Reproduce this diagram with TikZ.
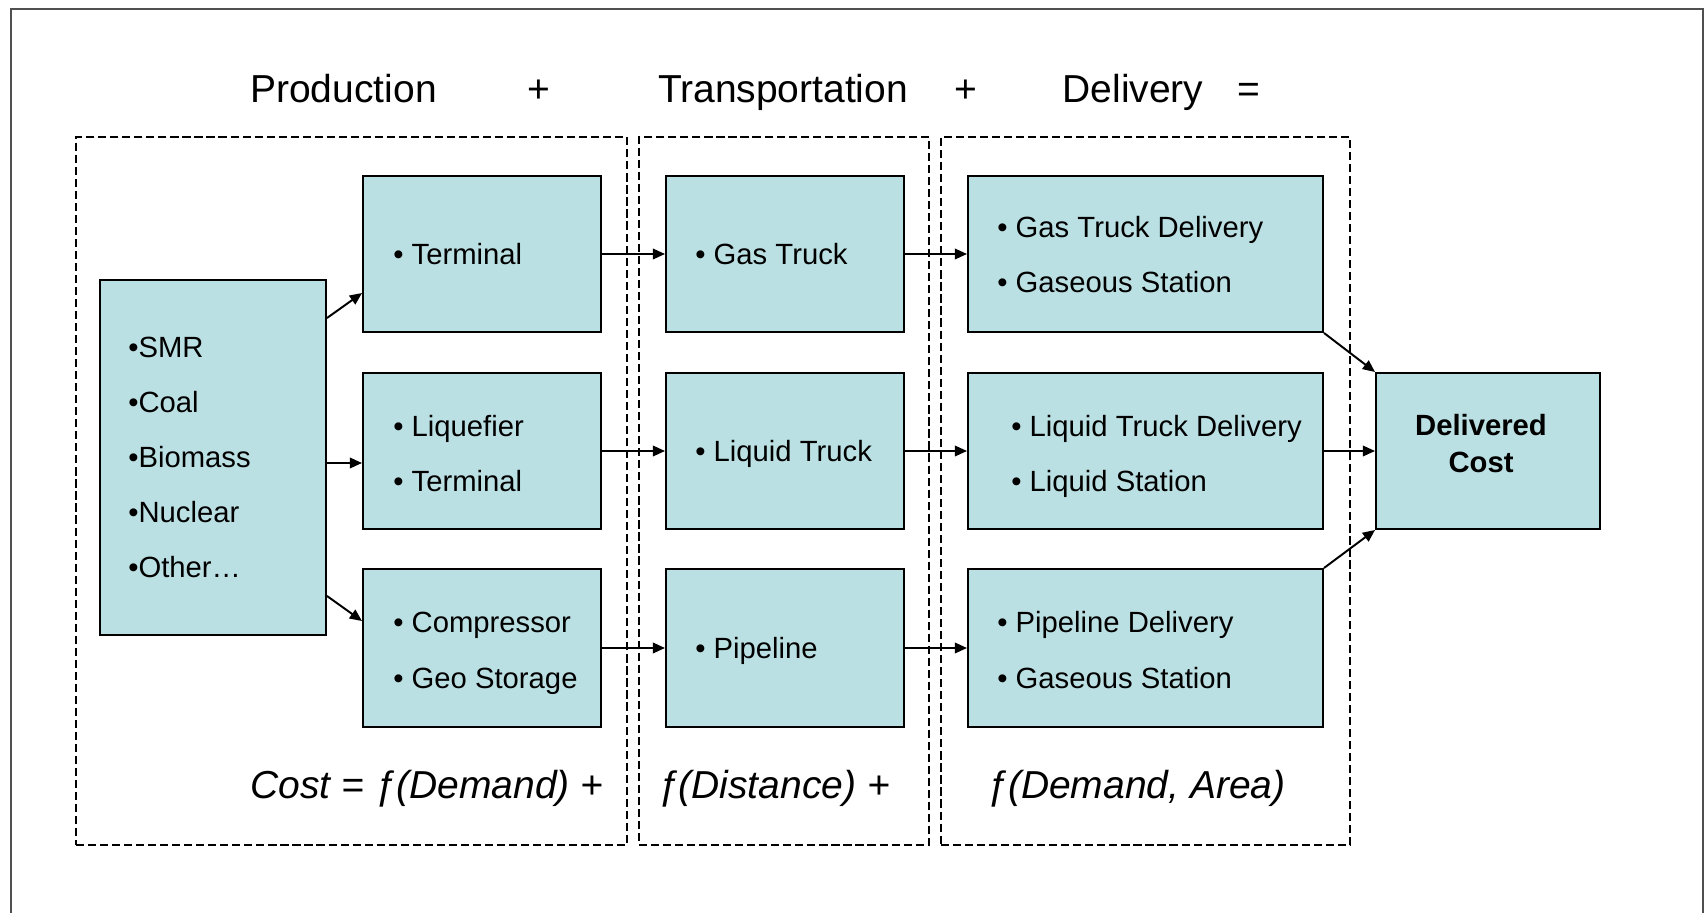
\documentclass[tikz,border=0pt]{standalone}
\usepackage{fontspec}
\setmainfont{Liberation Sans}
\usetikzlibrary{arrows.meta,calc,fit}
\definecolor{boxfill}{HTML}{BBE0E3}
\definecolor{framegray}{HTML}{505050}
\begin{document}
\begin{tikzpicture}[x=0.6154pt,y=-0.6154pt,
  box/.style={draw=black,line width=1.2pt,fill=boxfill,inner sep=0pt},
  grp/.style={draw=black,line width=1pt,dash pattern=on 5pt off 2.4pt,inner sep=0pt},
  body/.style={inner sep=0pt,anchor=base west,font=\fontsize{18}{21}\selectfont},
  ttl/.style={inner sep=0pt,anchor=base,font=\fontsize{24}{28}\selectfont},
  fx/.style={inner sep=0pt,anchor=base,font=\fontsize{24}{28}\selectfont\itshape},
  dcs/.style={inner sep=0pt,anchor=base,font=\fontsize{18}{21}\selectfont\bfseries},
  arr/.style={line width=1.2pt,-{Triangle[length=7.5pt,width=6.5pt]}}
]
\useasboundingbox (0,0) rectangle (1708,913);
% outer frame
\draw[framegray,line width=1pt] (11,913) -- (11,9) -- (1703,9) -- (1703,913);

% titles
\node[ttl] (tP) at (343.5,103) {Production};
\node[ttl] (tp1) at (539,103) {+};
\node[ttl] (tT) at (783,103) {Transportation};
\node[ttl] (tp2) at (966,103) {+};
\node[ttl] (tD) at (1133,103) {Delivery};
\node[ttl] (teq) at (1249,103) {=};

% dashed groups
\node[grp,fit={(76,137)(627,845)}] (gP) {};
\node[grp,fit={(639,137)(929,845)}] (gT) {};
\node[grp,fit={(941,137)(1350,845)}] (gD) {};

% boxes
\node[box,fit={(100,280)(326,635)}] (src) {};
\node[box,fit={(363,176)(601,332)}] (p1) {};
\node[box,fit={(363,373)(601,529)}] (p2) {};
\node[box,fit={(363,569)(601,727)}] (p3) {};
\node[box,fit={(666,176)(904,332)}] (q1) {};
\node[box,fit={(666,373)(904,529)}] (q2) {};
\node[box,fit={(666,569)(904,727)}] (q3) {};
\node[box,fit={(968,176)(1323,332)}] (d1) {};
\node[box,fit={(968,373)(1323,529)}] (d2) {};
\node[box,fit={(968,569)(1323,727)}] (d3) {};
\node[box,fit={(1376,373)(1600,529)}] (dc) {};

% source text
\node[body] (s1) at (128,357) {•SMR};
\node[body] (s2) at (128,412) {•Coal};
\node[body] (s3) at (128,467) {•Biomass};
\node[body] (s4) at (128,522) {•Nuclear};
\node[body] (s5) at (128,577) {•Other…};

% production texts
\node[body] (p1a) at (393,265) {• Terminal};
\node[body] (p2a) at (393,436) {• Liquefier};
\node[body] (p2b) at (393,491) {• Terminal};
\node[body] (p3a) at (393,632) {• Compressor};
\node[body] (p3b) at (393,688) {• Geo Storage};

% transportation texts
\node[body] (q1a) at (695,265) {• Gas Truck};
\node[body] (q2a) at (695,461) {• Liquid Truck};
\node[body] (q3a) at (695,658) {• Pipeline};

% delivery texts
\node[body] (d1a) at (997,238) {• Gas Truck Delivery};
\node[body] (d1b) at (997,293) {• Gaseous Station};
\node[body] (d2a) at (1011,436) {• Liquid Truck Delivery};
\node[body] (d2b) at (1011,491) {• Liquid Station};
\node[body] (d3a) at (997,632) {• Pipeline Delivery};
\node[body] (d3b) at (997,688) {• Gaseous Station};

% delivered cost
\node[dcs] (dcA) at (1481,435) {Delivered};
\node[dcs] (dcB) at (1481,472) {Cost};

% formulas
\node[fx] (f1) at (427,798) {Cost = ƒ(Demand) +};
\node[fx] (f2) at (773.5,798) {ƒ(Distance) +};
\node[fx] (f3) at (1136,798) {ƒ(Demand, Area)};

% arrows
\draw[arr] ($(src.north east)+(0,39)$) -- ($(p1.north west)+(0,118)$);
\draw[arr] ($(src.east)+(0,5.5)$) -- ($(p2.west)+(0,12)$);
\draw[arr] ($(src.south east)+(0,-40)$) -- ($(p3.north west)+(0,53)$);
\draw[arr] (p1.east) -- (q1.west);
\draw[arr] (p2.east) -- (q2.west);
\draw[arr] (p3.east) -- (q3.west);
\draw[arr] (q1.east) -- (d1.west);
\draw[arr] (q2.east) -- (d2.west);
\draw[arr] (q3.east) -- (d3.west);
\draw[arr] (d1.south east) -- (dc.north west);
\draw[arr] (d2.east) -- (dc.west);
\draw[arr] (d3.north east) -- (dc.south west);
\end{tikzpicture}
\end{document}
